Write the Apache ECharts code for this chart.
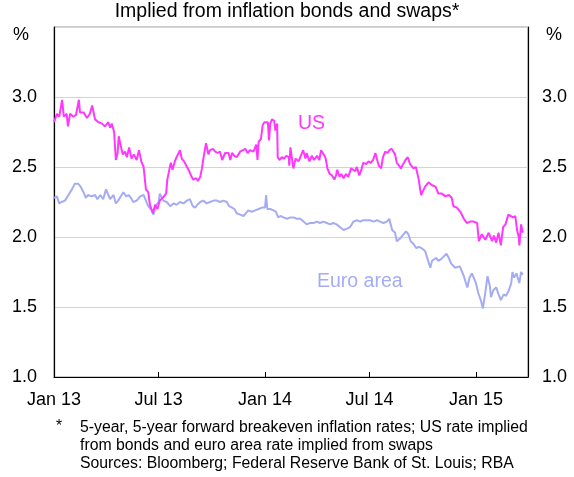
<!DOCTYPE html>
<html>
<head>
<meta charset="utf-8">
<title>Breakeven inflation</title>
<script src="https://cdn.jsdelivr.net/npm/echarts@6/dist/echarts.min.js"></script>
<style>
  html, body { margin: 0; padding: 0; background: #fff; }
  #chart { width: 574px; height: 477px; }
</style>
</head>
<body>
<div id="chart"></div>
<script>
// x values are days since 1 Jan 2013
const tickDays = [0, 181, 365, 546, 730]
const tickLabels = ['Jan 13', 'Jul 13', 'Jan 14', 'Jul 14', 'Jan 15']

// US rate (implied from bonds)
const usDays = [
  0, 5, 9, 14, 17, 22, 24, 28, 33, 38,
  43, 45, 51, 57, 62, 66, 71, 77, 83, 88,
  94, 97, 100, 104, 107, 110, 112, 115, 119, 123,
  126, 130, 134, 138, 143, 147, 151, 155, 159, 163,
  166, 171, 175, 179, 183, 188, 194, 196, 200, 202,
  205, 209, 212, 215, 218, 221, 225, 230, 234, 238,
  241, 246, 249, 253, 256, 258, 263, 265, 267, 270,
  275, 279, 283, 287, 291, 296, 302, 305, 308, 312,
  316, 322, 327, 331, 335, 339, 345, 350, 352, 354,
  358, 361, 364, 367, 370, 372, 374, 377, 381, 383,
  386, 387, 390, 394, 398, 402, 406, 407, 409, 414,
  418, 423, 427, 431, 435, 437, 442, 446, 450, 455,
  459, 462, 465, 468, 470, 473, 477, 481, 485, 488,
  490, 494, 497, 501, 505, 509, 514, 517, 521, 524,
  528, 531, 535, 540, 544, 548, 552, 556, 559, 562,
  566, 569, 573, 577, 580, 584, 587, 590, 593, 597,
  600, 604, 608, 612, 616, 622, 626, 631, 635, 642,
  648, 654, 660, 665, 671, 677, 683, 688, 691, 697,
  703, 709, 714, 720, 726, 732, 735, 740, 746, 752,
  758, 761, 765, 769, 773, 777, 781, 786, 789, 794,
  798, 801, 804, 805, 808, 811
]
const usValues = [
  2.82, 2.88, 2.86, 2.98, 2.86, 2.88, 2.79, 2.88, 2.86, 2.87,
  2.98, 2.89, 2.89, 2.85, 2.88, 2.94, 2.84, 2.82, 2.81, 2.79,
  2.82, 2.78, 2.81, 2.75, 2.55, 2.60, 2.72, 2.66, 2.59, 2.61,
  2.57, 2.64, 2.56, 2.59, 2.55, 2.62, 2.54, 2.50, 2.34, 2.32,
  2.23, 2.17, 2.23, 2.20, 2.26, 2.28, 2.31, 2.41, 2.49, 2.53,
  2.48, 2.54, 2.57, 2.56, 2.62, 2.56, 2.54, 2.50, 2.47, 2.43,
  2.41, 2.42, 2.40, 2.43, 2.49, 2.55, 2.67, 2.66, 2.59, 2.62,
  2.63, 2.61, 2.60, 2.61, 2.55, 2.60, 2.60, 2.55, 2.60, 2.58,
  2.57, 2.61, 2.62, 2.63, 2.60, 2.62, 2.61, 2.66, 2.55, 2.68,
  2.70, 2.80, 2.82, 2.81, 2.82, 2.69, 2.81, 2.84, 2.83, 2.76,
  2.81, 2.57, 2.55, 2.57, 2.56, 2.58, 2.57, 2.51, 2.64, 2.49,
  2.56, 2.54, 2.58, 2.62, 2.56, 2.60, 2.54, 2.58, 2.55, 2.58,
  2.55, 2.62, 2.61, 2.58, 2.56, 2.49, 2.45, 2.44, 2.41, 2.44,
  2.48, 2.43, 2.45, 2.42, 2.45, 2.43, 2.49, 2.50, 2.47, 2.50,
  2.44, 2.47, 2.53, 2.52, 2.54, 2.53, 2.55, 2.60, 2.55, 2.51,
  2.49, 2.57, 2.61, 2.60, 2.62, 2.63, 2.64, 2.59, 2.53, 2.51,
  2.49, 2.52, 2.55, 2.57, 2.52, 2.49, 2.50, 2.41, 2.30, 2.36,
  2.39, 2.37, 2.36, 2.31, 2.31, 2.29, 2.30, 2.28, 2.22, 2.21,
  2.18, 2.13, 2.10, 2.11, 2.11, 2.10, 1.97, 2.02, 1.98, 2.03,
  1.97, 2.01, 1.96, 2.03, 1.94, 2.07, 2.09, 2.16, 2.17, 2.14,
  2.15, 2.05, 2.00, 1.94, 2.09, 2.03
]

// Euro area rate (implied from swaps)
const euDays = [
  0, 5, 9, 13, 19, 25, 31, 36, 42, 46,
  51, 55, 59, 65, 71, 75, 80, 85, 90, 94,
  97, 103, 107, 111, 117, 120, 125, 129, 133, 137,
  143, 149, 155, 159, 163, 169, 172, 177, 181, 183,
  189, 195, 201, 207, 212, 218, 224, 230, 235, 240,
  244, 248, 253, 258, 264, 270, 276, 282, 287, 293,
  299, 303, 308, 312, 316, 322, 328, 332, 336, 342,
  348, 354, 360, 365, 367, 369, 374, 380, 384, 388,
  392, 397, 403, 409, 414, 420, 426, 432, 437, 443,
  449, 455, 460, 466, 472, 478, 483, 489, 495, 501,
  507, 512, 518, 524, 530, 535, 541, 547, 553, 559,
  564, 570, 576, 580, 585, 590, 593, 599, 605, 609,
  613, 617, 622, 627, 631, 636, 642, 645, 648, 651,
  654, 657, 661, 665, 669, 674, 679, 683, 687, 690,
  694, 697, 702, 706, 709, 711, 715, 719, 723, 726,
  730, 734, 739, 742, 746, 750, 754, 756, 760, 765,
  769, 773, 778, 782, 786, 791, 793, 796, 800, 803,
  805, 808, 811
]
const euValues = [
  2.28, 2.29, 2.24, 2.25, 2.26, 2.30, 2.34, 2.38, 2.38, 2.36,
  2.32, 2.28, 2.30, 2.29, 2.30, 2.27, 2.30, 2.27, 2.34, 2.30,
  2.27, 2.30, 2.24, 2.26, 2.30, 2.32, 2.29, 2.30, 2.28, 2.25,
  2.26, 2.29, 2.30, 2.26, 2.22, 2.19, 2.16, 2.23, 2.25, 2.31,
  2.26, 2.25, 2.22, 2.24, 2.23, 2.25, 2.24, 2.26, 2.27, 2.22,
  2.21, 2.23, 2.25, 2.26, 2.24, 2.25, 2.26, 2.26, 2.25, 2.26,
  2.25, 2.22, 2.21, 2.20, 2.17, 2.16, 2.15, 2.17, 2.19, 2.18,
  2.19, 2.20, 2.21, 2.21, 2.30, 2.20, 2.20, 2.19, 2.18, 2.14,
  2.15, 2.14, 2.13, 2.14, 2.14, 2.13, 2.13, 2.11, 2.09, 2.10,
  2.10, 2.11, 2.10, 2.11, 2.10, 2.09, 2.10, 2.09, 2.07, 2.05,
  2.06, 2.07, 2.11, 2.12, 2.11, 2.12, 2.12, 2.12, 2.11, 2.12,
  2.11, 2.10, 2.11, 2.13, 2.05, 2.03, 1.97, 1.99, 2.02, 2.04,
  2.02, 1.97, 1.95, 1.92, 1.93, 1.92, 1.90, 1.86, 1.82, 1.78,
  1.83, 1.84, 1.85, 1.83, 1.84, 1.86, 1.88, 1.85, 1.81, 1.80,
  1.78, 1.79, 1.79, 1.75, 1.72, 1.71, 1.64, 1.71, 1.74, 1.73,
  1.67, 1.60, 1.54, 1.49, 1.60, 1.72, 1.65, 1.57, 1.62, 1.64,
  1.59, 1.55, 1.59, 1.58, 1.61, 1.67, 1.75, 1.71, 1.74, 1.75,
  1.67, 1.75, 1.73
]

const FONT = 'Liberation Sans, Arial, sans-serif'
const US_COLOR = '#ff38ff'
const EU_COLOR = '#a5acf3'

const chart = echarts.init(document.getElementById('chart'), null, { renderer: 'canvas' })

function yAxis(pos) {
  return {
    type: 'value',
    position: pos,
    min: 1,
    max: 3.5,
    interval: 0.5,
    axisLine: { show: true, lineStyle: { color: '#000', width: 1.2 } },
    axisTick: { show: false },
    splitLine: { show: pos === 'left', lineStyle: { color: '#d4d4d4', width: 1 } },
    axisLabel: {
      margin: pos === 'left' ? 17 : 14,
      color: '#000',
      fontSize: 18,
      fontFamily: FONT,
      formatter: v => (v >= 3.5 ? '' : v.toFixed(1))
    }
  }
}

const option = {
  animation: false,
  backgroundColor: '#fff',
  grid: {
    left: 54, right: 46, top: 27, bottom: 100,
    show: true, borderColor: '#999', borderWidth: 1
  },
  xAxis: {
    type: 'value',
    min: 0,
    max: 820,
    axisLine: { show: true, lineStyle: { color: '#000', width: 1.2 } },
    splitLine: { show: false },
    axisTick: {
      show: true,
      inside: true,
      length: 5,
      customValues: tickDays,
      lineStyle: { color: '#000' }
    },
    axisLabel: {
      customValues: tickDays,
      margin: 14,
      color: '#000',
      fontSize: 18,
      fontFamily: FONT,
      formatter: v => tickLabels[tickDays.indexOf(v)] || ''
    }
  },
  yAxis: [yAxis('left'), yAxis('right')],
  series: [
    {
      name: 'Euro area',
      type: 'line',
      data: euDays.map((d, i) => [d, euValues[i]]),
      showSymbol: false,
      lineStyle: { color: EU_COLOR, width: 2 },
      z: 2
    },
    {
      name: 'US',
      type: 'line',
      data: usDays.map((d, i) => [d, usValues[i]]),
      showSymbol: false,
      lineStyle: { color: US_COLOR, width: 2 },
      z: 3
    }
  ],
  graphic: [
    { type: 'text', left: 'center', top: 2,
      style: { text: 'Implied from inflation bonds and swaps*', font: '19.5px ' + FONT, fill: '#000' } },
    { type: 'text', left: 13, top: 26,
      style: { text: '%', font: '18px ' + FONT, fill: '#000' } },
    { type: 'text', left: 546, top: 26,
      style: { text: '%', font: '18px ' + FONT, fill: '#000' } },
    { type: 'text', left: 298, top: 114,
      style: { text: 'US', font: '19.5px ' + FONT, fill: US_COLOR } },
    { type: 'text', left: 317, top: 272,
      style: { text: 'Euro area', font: '19.5px ' + FONT, fill: EU_COLOR } },
    { type: 'text', left: 56, top: 419,
      style: { text: '*', font: '15.8px ' + FONT, fill: '#000' } },
    { type: 'text', left: 80, top: 419,
      style: {
        text: '5-year, 5-year forward breakeven inflation rates; US rate implied\nfrom bonds and euro area rate implied from swaps\nSources: Bloomberg; Federal Reserve Bank of St. Louis; RBA',
        font: '15.8px ' + FONT, fill: '#000', lineHeight: 18
      } }
  ]
}

chart.setOption(option)
</script>
</body>
</html>
